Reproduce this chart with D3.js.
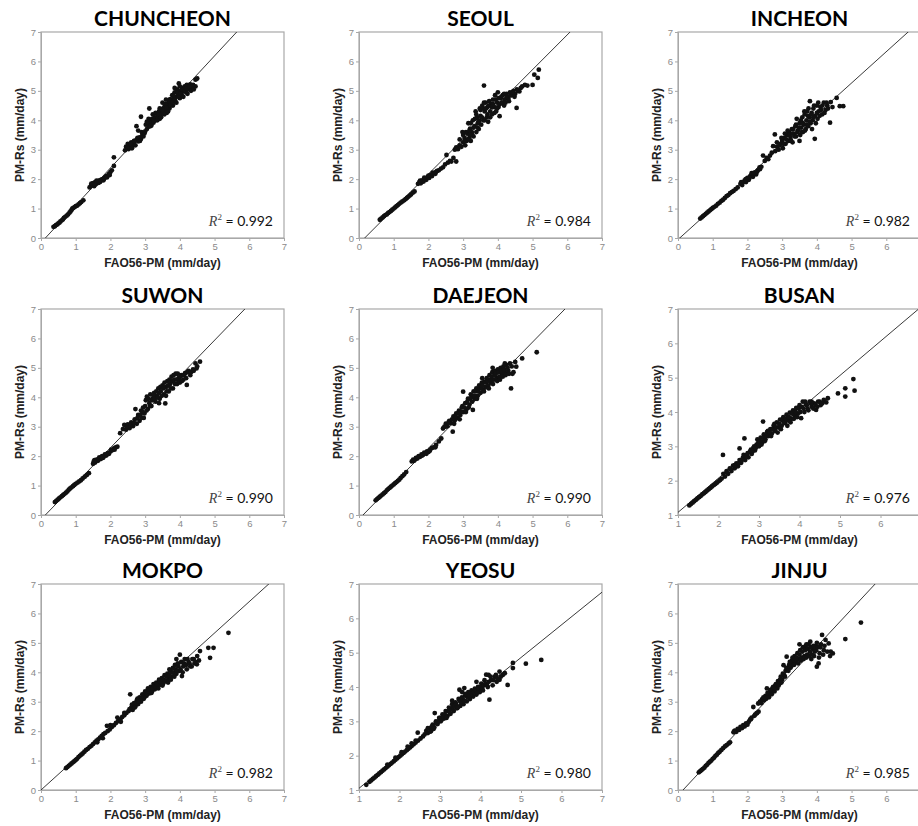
<!DOCTYPE html>
<html>
<head>
<meta charset="utf-8">
<script src="https://cdn.jsdelivr.net/npm/d3@7"></script>
<style>
  body { margin: 0; background: #fff; }
  svg { display: block; }
</style>
</head>
<body>
<div id="chart"></div>
<script>
// station panels, left-to-right, top-to-bottom
const stations = ["CHUNCHEON", "SEOUL", "INCHEON", "SUWON", "DAEJEON", "BUSAN", "MOKPO", "YEOSU", "JINJU"];
const r2Values = ["0.992", "0.984", "0.982", "0.990", "0.990", "0.976", "0.982", "0.980", "0.985"];
const axisMins = [0, 0, 0, 0, 0, 1, 0, 1, 0];
const axisMax = 7;
// fitted line: y = slope * x + intercept
const fitSlopes = [1.27, 1.183, 1.064, 1.218, 1.203, 0.997, 1.067, 0.952, 1.265];
const fitIntercepts = [-0.16, -0.193, -0.053, -0.152, -0.138, 0.08, 0.0, 0.098, -0.183];

// [FAO56-PM, PM-Rs] in mm/day
const chuncheon = [
  [0.36,0.38],[0.4,0.4],[0.43,0.44],[0.47,0.46],[0.5,0.5],[0.53,0.52],[0.56,0.56],[0.6,0.6],[0.63,0.63],[0.66,0.68],
  [0.7,0.72],[0.74,0.76],[0.78,0.8],[0.82,0.86],[0.85,0.9],[0.88,0.95],[0.9,1.0],[0.93,1.02],[0.97,1.05],[1.0,1.08],
  [1.04,1.1],[1.08,1.14],[1.12,1.18],[1.16,1.22],[1.22,1.28],
  [1.4,1.72],[1.44,1.78],[1.48,1.8],[1.5,1.86],[1.53,1.76],[1.56,1.9],[1.58,1.83],[1.62,1.92],[1.65,1.87],[1.68,1.96],
  [1.7,1.9],[1.74,1.98],[1.77,2.0],[1.8,1.96],[1.84,2.06],[1.88,2.1],[1.92,2.12],[1.96,2.18],[2.0,2.24],[2.04,2.3],
  [2.1,2.45],[2.1,2.74],[1.45,1.85],[1.55,1.82],[1.6,1.95],[1.72,1.94],[1.82,2.02],[1.9,2.06],[1.98,2.14],
  [2.42,2.98],[2.45,3.1],[2.5,3.2],[2.52,3.02],[2.56,3.15],[2.6,3.25],[2.63,3.1],[2.66,3.22],[2.7,3.3],[2.72,3.15],
  [2.76,3.35],[2.8,3.28],[2.84,3.42],[2.88,3.36],[2.92,3.5],[2.95,3.45],[2.88,4.12],[2.75,3.8],[2.8,3.65],
  [2.5,3.08],[2.58,3.2],[2.62,3.05],[2.68,3.3],[2.78,3.4],[2.85,3.3],[2.9,3.6],[2.98,3.55],
  [3.0,3.62],[3.02,3.85],[3.05,3.7],[3.08,3.9],[3.1,3.78],[3.12,4.4],[3.15,3.95],[3.18,3.82],[3.2,4.05],[3.24,3.92],
  [3.27,4.1],[3.3,4.0],[3.33,4.22],[3.36,4.12],[3.4,4.3],[3.42,4.05],[3.45,4.2],[3.48,4.38],[3.5,4.6],[3.52,4.28],
  [3.55,4.45],[3.58,4.35],[3.6,4.55],[3.62,4.25],[3.65,4.48],[3.68,4.62],[3.7,4.4],[3.72,4.72],[3.75,4.55],[3.78,4.85],
  [3.8,4.5],[3.82,4.7],[3.85,4.95],[3.88,4.62],[3.9,4.8],[3.92,5.05],[3.95,4.9],[3.97,5.25],[4.0,4.75],[4.02,5.0],
  [4.05,4.88],[4.08,5.1],[4.1,4.98],[4.14,5.15],[4.18,4.95],[4.2,5.2],[4.25,5.05],[4.3,5.22],[4.35,5.1],[4.45,5.38],
  [4.5,5.42],[4.45,5.15],
  [3.05,3.95],[3.1,4.05],[3.15,3.8],[3.22,4.2],[3.25,3.98],[3.3,4.25],[3.35,4.0],[3.38,4.2],[3.42,4.4],[3.46,4.1],
  [3.5,4.35],[3.55,4.2],[3.58,4.55],[3.62,4.42],[3.66,4.3],[3.7,4.65],[3.74,4.5],[3.78,4.62],[3.82,4.82],[3.86,4.72],
  [3.9,4.6],[3.94,4.95],[3.98,4.82],[4.02,4.9],[4.06,5.05],[4.1,4.8],[4.15,5.0],[4.2,5.08],[4.22,4.9],[4.28,5.15],
  [4.32,5.0],[4.38,5.2],[4.4,5.05],[3.85,5.1],[3.6,4.7],[4.0,5.15]
];
const seoul = [
  [0.6,0.62],[0.64,0.66],[0.68,0.7],[0.72,0.74],[0.76,0.78],[0.8,0.8],[0.84,0.85],[0.88,0.88],[0.92,0.92],[0.96,0.96],
  [1.0,1.0],[1.04,1.04],[1.08,1.08],[1.12,1.12],[1.16,1.16],[1.2,1.2],[1.25,1.24],[1.3,1.28],[1.34,1.32],[1.38,1.36],
  [1.42,1.4],[1.46,1.44],[1.5,1.48],[1.55,1.54],[1.6,1.58],
  [1.7,1.84],[1.74,1.9],[1.78,1.86],[1.82,1.96],[1.86,1.92],[1.9,2.02],[1.94,1.98],[1.98,2.08],[2.02,2.04],[2.06,2.14],
  [2.1,2.1],[2.15,2.2],[2.2,2.18],[2.25,2.28],[2.3,2.3],[1.76,1.95],[1.88,2.05],[2.0,2.12],[2.12,2.22],[2.22,2.25],
  [2.36,2.36],[2.42,2.4],[2.48,2.5],[2.52,2.82],[2.56,2.56],[2.62,2.62],[2.66,2.6],[2.72,2.72],[2.8,2.6],
  [2.76,3.0],[2.8,3.08],[2.85,3.02],[2.9,3.15],[2.95,3.1],[2.98,3.6],[3.0,3.25],[3.04,3.4],[3.06,3.15],[3.1,3.3],
  [3.12,3.55],[3.15,3.9],[3.18,3.4],[3.2,3.72],[3.22,3.3],[3.25,3.6],[3.28,4.0],[3.3,3.45],[3.33,3.8],[3.36,4.3],
  [3.38,3.6],[3.4,4.1],[3.42,3.9],[3.45,3.7],[3.48,4.4],[3.5,4.15],[3.52,3.85],[3.55,4.5],[3.58,4.0],[3.6,5.18],
  [3.62,4.3],[3.65,4.6],[3.68,4.1],[3.7,4.45],[3.72,3.95],[3.75,4.65],[3.78,4.3],[3.8,4.55],[3.83,4.2],[3.86,4.7],
  [3.9,4.45],[3.92,4.85],[3.95,4.3],[3.98,4.6],[4.0,4.95],[4.02,4.45],[4.05,4.14],[4.08,4.75],[4.1,4.6],[4.14,4.85],
  [4.18,4.5],[4.2,4.7],[4.25,4.9],[4.3,4.75],[4.35,4.95],[4.4,4.85],[4.45,5.0],[4.5,4.9],[4.54,4.42],[4.55,5.05],
  [4.62,4.98],[4.7,5.15],[4.78,5.2],[4.85,5.18],[5.0,5.2],[5.05,5.55],[5.18,5.72],[5.15,5.44],
  [2.9,3.35],[3.0,3.5],[3.08,3.6],[3.14,3.35],[3.18,3.65],[3.22,3.9],[3.26,3.5],[3.3,3.75],[3.34,4.05],[3.38,4.2],
  [3.42,3.75],[3.46,4.0],[3.5,4.35],[3.54,4.1],[3.58,4.4],[3.62,4.0],[3.66,4.4],[3.7,4.2],[3.74,4.5],[3.78,4.1],
  [3.82,4.45],[3.86,4.55],[3.9,4.25],[3.94,4.7],[3.98,4.4],[4.02,4.75],[4.06,4.55],[4.1,4.8],[4.14,4.6],[4.18,4.9],
  [4.22,4.6],[4.26,4.8],[4.32,4.65],[4.36,4.85],[4.42,4.95],[4.48,4.8],[4.58,5.0],[4.66,5.1],[3.05,3.3],[3.2,3.5],
  [3.45,3.95],[3.6,4.6]
];
const incheon = [
  [0.64,0.66],[0.68,0.7],[0.72,0.74],[0.76,0.78],[0.8,0.82],[0.84,0.86],[0.88,0.9],[0.92,0.94],[0.96,0.98],[1.0,1.02],
  [1.05,1.06],[1.1,1.1],[1.15,1.16],[1.2,1.2],[1.25,1.26],[1.3,1.3],[1.35,1.36],[1.4,1.42],[1.45,1.46],[1.5,1.52],
  [1.55,1.56],[1.6,1.6],[1.66,1.66],[1.72,1.72],
  [1.8,1.84],[1.85,1.8],[1.88,1.9],[1.92,1.96],[1.96,1.9],[2.0,2.04],[2.04,1.98],[2.08,2.1],[2.12,2.2],[2.16,2.08],
  [2.2,2.22],[2.25,2.16],[2.3,2.3],[2.36,2.34],[2.4,2.42],[1.82,1.9],[1.95,2.0],[2.06,2.05],[2.18,2.2],[2.28,2.25],
  [2.35,2.4],
  [2.45,2.8],[2.5,2.62],[2.55,2.72],[2.6,2.68],[2.65,2.8],[2.7,2.9],[2.74,3.12],[2.79,3.52],
  [2.8,2.95],[2.85,3.1],[2.9,3.0],[2.95,3.2],[3.0,3.3],[3.02,3.05],[3.06,3.4],[3.1,3.2],[3.14,3.5],[3.18,3.3],
  [3.2,3.6],[3.24,3.4],[3.28,3.7],[3.3,3.25],[3.34,3.55],[3.38,3.8],[3.4,3.45],[3.42,4.05],[3.45,3.65],[3.5,3.9],
  [3.52,3.5],[3.55,3.75],[3.58,4.1],[3.6,3.6],[3.62,3.85],[3.65,4.2],[3.68,3.7],[3.7,4.0],[3.72,4.3],[3.75,3.8],
  [3.78,4.1],[3.8,4.65],[3.82,3.9],[3.85,4.25],[3.88,4.0],[3.9,4.4],[3.94,3.37],[3.95,4.15],[4.0,4.5],[4.02,4.05],
  [4.05,4.3],[4.1,4.45],[4.15,4.2],[4.2,4.6],[4.25,4.35],[4.3,4.5],[4.38,3.92],[4.4,4.62],[4.45,4.45],[4.57,4.76],
  [4.66,4.48],[4.76,4.48],
  [2.85,3.25],[2.92,3.15],[2.98,3.4],[3.04,3.2],[3.08,3.55],[3.12,3.35],[3.16,3.65],[3.22,3.5],[3.26,3.3],[3.32,3.7],
  [3.36,3.45],[3.4,3.85],[3.44,3.6],[3.48,3.75],[3.54,4.0],[3.56,3.6],[3.6,3.9],[3.64,4.3],[3.66,3.65],[3.7,3.85],
  [3.74,4.15],[3.76,4.4],[3.8,3.95],[3.84,4.2],[3.86,3.7],[3.9,4.1],[3.92,4.5],[3.97,3.9],[4.0,4.25],[4.04,4.6],
  [4.08,4.15],[4.12,4.35],[4.16,4.5],[4.22,4.25],[4.28,4.6],[4.32,4.4],[3.5,3.3],[3.3,3.55]
];
const suwon = [
  [0.4,0.44],[0.44,0.48],[0.48,0.52],[0.52,0.56],[0.56,0.6],[0.6,0.64],[0.64,0.68],[0.68,0.72],[0.72,0.76],[0.76,0.8],
  [0.8,0.86],[0.84,0.9],[0.88,0.94],[0.92,0.98],[0.96,1.02],[1.0,1.06],[1.05,1.1],[1.1,1.14],[1.15,1.18],[1.2,1.24],
  [1.26,1.3],[1.32,1.36],[1.38,1.42],
  [1.5,1.74],[1.52,1.82],[1.56,1.78],[1.6,1.88],[1.64,1.84],[1.68,1.96],[1.72,1.9],[1.76,2.0],[1.8,1.96],[1.84,2.06],
  [1.88,2.02],[1.92,2.1],[1.96,2.08],[2.0,2.16],[2.05,2.2],[2.1,2.26],[2.15,2.3],[2.2,2.32],
  [1.54,1.86],[1.66,1.9],[1.78,1.94],[1.9,2.06],[2.02,2.22],[2.12,2.22],
  [2.28,2.78],[2.36,2.92],[2.4,3.06],[2.45,2.9],[2.5,3.08],[2.55,2.95],[2.6,3.15],[2.65,3.02],[2.7,3.25],[2.72,3.6],
  [2.76,3.1],[2.8,3.4],[2.84,3.2],[2.88,3.55],[2.9,3.3],[2.94,3.65],[2.98,3.45],[3.02,3.9],[3.05,4.02],[3.08,3.6],
  [3.12,3.8],[3.15,4.1],[3.18,3.7],[3.22,3.95],[3.26,4.15],[3.3,3.85],[3.34,4.05],[3.38,4.3],[3.42,3.95],[3.45,4.2],
  [3.5,4.4],[3.54,4.1],[3.58,3.79],[3.6,4.35],[3.64,4.55],[3.68,4.2],[3.72,4.45],[3.76,4.7],[3.8,4.3],[3.84,4.6],
  [3.88,4.8],[3.92,4.45],[3.96,4.65],[4.0,4.5],[4.04,4.75],[4.1,4.6],[4.15,4.82],[4.2,4.42],[4.25,4.9],[4.3,4.75],
  [4.38,4.95],[4.45,5.15],[4.5,5.05],[4.58,5.21],[4.48,4.98],
  [2.48,2.98],[2.58,3.05],[2.68,3.12],[2.78,3.3],[2.86,3.4],[2.92,3.5],[2.96,3.3],[3.0,3.7],[3.04,3.55],[3.1,3.95],
  [3.14,3.7],[3.2,3.9],[3.24,4.05],[3.28,3.95],[3.32,4.2],[3.36,4.0],[3.4,4.15],[3.44,4.35],[3.48,4.05],[3.52,4.3],
  [3.56,4.5],[3.62,4.2],[3.66,4.4],[3.7,4.6],[3.74,4.3],[3.78,4.55],[3.82,4.75],[3.86,4.45],[3.9,4.6],[3.94,4.8],
  [3.98,4.55],[4.02,4.7],[4.06,4.55],[4.12,4.75],[4.18,4.65],[4.22,4.85],[4.32,4.85],[4.4,4.9],[3.6,4.05],[3.4,3.8]
];
const daejeon = [
  [0.48,0.5],[0.52,0.54],[0.56,0.58],[0.6,0.62],[0.64,0.66],[0.68,0.7],[0.72,0.74],[0.76,0.78],[0.8,0.84],[0.84,0.88],
  [0.88,0.92],[0.92,0.96],[0.96,1.0],[1.0,1.04],[1.04,1.08],[1.08,1.12],[1.12,1.16],[1.16,1.2],[1.2,1.26],[1.25,1.32],
  [1.3,1.38],[1.36,1.46],
  [1.52,1.82],[1.56,1.88],[1.6,1.86],[1.64,1.94],[1.68,1.92],[1.72,2.0],[1.76,1.98],[1.8,2.06],[1.84,2.04],[1.88,2.12],
  [1.92,2.1],[1.96,2.16],[2.0,2.14],[2.05,2.22],[2.1,2.28],[2.15,2.3],[2.22,2.38],[2.3,2.5],[2.37,2.6],
  [1.58,1.84],[1.7,1.96],[1.82,2.02],[1.94,2.08],[2.04,2.18],[2.2,2.3],
  [2.42,2.94],[2.46,3.0],[2.5,3.1],[2.55,3.02],[2.6,3.2],[2.65,3.12],[2.7,2.83],[2.72,3.35],[2.76,3.22],[2.8,3.45],
  [2.84,3.3],[2.88,3.55],[2.92,3.4],[2.96,3.65],[3.0,4.19],[3.02,3.5],[3.06,3.8],[3.1,3.6],[3.14,3.95],[3.18,3.75],
  [3.22,4.1],[3.26,3.85],[3.28,3.57],[3.3,4.2],[3.34,3.95],[3.38,4.3],[3.42,4.05],[3.46,4.4],[3.5,4.15],[3.54,4.5],
  [3.58,4.25],[3.61,4.53],[3.64,4.35],[3.68,4.65],[3.72,4.4],[3.76,4.75],[3.8,4.5],[3.84,4.85],[3.88,4.6],[3.92,4.9],
  [3.96,4.65],[4.0,4.95],[4.04,4.7],[4.08,5.0],[4.12,4.8],[4.16,5.05],[4.2,4.85],[4.25,5.1],[4.3,4.9],[4.38,4.3],
  [4.35,5.15],[4.42,4.8],[4.53,5.04],[4.5,5.2],[4.7,5.32],[5.12,5.53],
  [2.5,3.0],[2.58,3.15],[2.68,3.25],[2.74,3.1],[2.78,3.35],[2.86,3.45],[2.9,3.25],[2.94,3.5],[2.98,3.7],[3.04,3.65],
  [3.08,3.5],[3.12,3.85],[3.16,3.65],[3.2,3.95],[3.24,4.0],[3.32,4.05],[3.36,4.2],[3.4,3.95],[3.44,4.2],[3.48,4.3],
  [3.52,4.35],[3.56,4.4],[3.6,4.2],[3.66,4.5],[3.7,4.55],[3.74,4.3],[3.78,4.6],[3.82,4.7],[3.86,4.45],[3.9,4.75],
  [3.94,4.8],[3.98,4.55],[4.02,4.85],[4.06,4.6],[4.1,4.9],[4.14,4.7],[4.18,4.95],[4.22,4.75],[4.28,5.0],[4.32,4.8],
  [4.4,5.05],[4.45,4.85],[3.55,4.65],[3.85,5.0],[4.2,5.15]
];
const busan = [
  [1.28,1.28],[1.32,1.32],[1.36,1.36],[1.4,1.4],[1.44,1.44],[1.48,1.48],[1.52,1.52],[1.56,1.55],[1.6,1.6],[1.64,1.63],
  [1.68,1.67],[1.72,1.71],[1.76,1.75],[1.8,1.79],[1.84,1.83],[1.88,1.87],[1.92,1.9],[1.96,1.94],[2.0,1.98],[2.04,2.02],
  [2.08,2.06],
  [2.11,2.75],[2.12,2.2],[2.16,2.12],[2.2,2.28],[2.24,2.2],[2.28,2.36],[2.32,2.28],[2.36,2.44],[2.4,2.36],[2.44,2.5],
  [2.48,2.42],[2.52,2.6],[2.52,2.94],[2.56,2.52],[2.6,2.66],[2.64,3.23],[2.66,2.6],[2.7,2.75],[2.74,2.68],[2.78,2.85],
  [2.82,2.78],[2.86,2.95],[2.9,2.88],[2.94,3.05],
  [2.96,3.2],[3.0,3.0],[3.04,3.25],[3.08,3.12],[3.1,3.72],[3.12,3.35],[3.16,3.2],[3.2,3.42],[3.24,3.3],[3.28,3.5],
  [3.32,3.38],[3.36,3.6],[3.4,3.45],[3.44,3.7],[3.48,3.55],[3.52,3.78],[3.56,3.6],[3.6,3.85],[3.64,3.68],[3.68,3.92],
  [3.72,3.75],[3.76,3.98],[3.8,3.8],[3.84,4.05],[3.88,3.88],[3.92,4.12],[3.96,3.95],[4.0,4.2],[4.04,3.82],[4.08,4.3],
  [4.12,4.0],[4.16,4.22],[4.2,4.1],[4.25,4.3],[4.3,4.15],[4.36,4.25],[4.41,4.06],[4.46,4.3],[4.52,4.2],[4.6,4.35],
  [4.7,4.4],[4.66,4.28],[4.95,4.54],[5.13,4.69],[5.13,4.45],[5.33,4.96],[5.36,4.62],
  [2.2,2.24],[2.3,2.34],[2.4,2.45],[2.5,2.5],[2.58,2.6],[2.62,2.75],[2.68,2.7],[2.72,2.8],[2.8,2.9],[2.84,2.85],
  [2.88,3.0],[2.92,2.95],[2.98,3.1],[3.02,3.15],[3.06,3.05],[3.1,3.25],[3.14,3.15],[3.18,3.3],[3.22,3.45],[3.26,3.4],
  [3.3,3.3],[3.34,3.5],[3.38,3.65],[3.42,3.55],[3.46,3.4],[3.5,3.65],[3.54,3.5],[3.58,3.75],[3.62,3.7],[3.66,3.8],
  [3.7,3.6],[3.74,3.85],[3.78,3.7],[3.82,3.95],[3.86,3.8],[3.9,4.0],[3.94,3.85],[3.98,4.1],[4.02,4.0],[4.06,4.15],
  [4.1,4.1],[4.14,4.3],[4.18,4.2],[4.22,4.05],[4.28,4.25],[4.34,4.1],[4.4,4.2],[4.44,4.15],[4.5,4.3],[4.56,4.25],
  [4.3,4.3]
];
const mokpo = [
  [0.72,0.74],[0.76,0.78],[0.8,0.82],[0.84,0.86],[0.88,0.9],[0.92,0.94],[0.96,0.98],[1.0,1.02],[1.04,1.06],[1.08,1.12],
  [1.12,1.16],[1.16,1.2],[1.2,1.24],[1.25,1.3],[1.3,1.36],[1.35,1.4],[1.4,1.46],[1.45,1.5],[1.5,1.56],[1.55,1.62],
  [1.6,1.68],[1.65,1.72],[1.7,1.78],[1.75,1.84],[1.8,1.9],[1.85,1.94],[1.9,2.18],[1.92,2.0],[1.98,2.06],[2.04,2.14],
  [2.1,2.2],[2.16,2.28],[2.22,2.34],[2.28,2.4],[2.34,2.48],[2.4,2.54],[2.46,2.62],
  [1.62,1.62],[1.78,1.76],[2.0,2.2],[2.2,2.46],[2.3,2.32],[2.4,2.62],
  [2.52,2.68],[2.57,3.25],[2.6,2.8],[2.64,2.72],[2.68,2.95],[2.72,2.84],[2.76,3.05],[2.8,2.92],[2.84,3.15],[2.88,3.0],
  [2.92,3.25],[2.96,3.1],[3.0,3.35],[3.04,3.2],[3.08,3.45],[3.12,3.28],[3.16,3.5],[3.2,3.35],[3.24,3.6],[3.28,3.42],
  [3.32,3.65],[3.36,3.5],[3.4,3.75],[3.44,3.58],[3.48,3.8],[3.52,3.62],[3.56,3.9],[3.6,3.7],[3.64,3.95],[3.68,3.78],
  [3.72,4.05],[3.76,3.85],[3.8,4.15],[3.82,3.98],[3.86,4.25],[3.9,3.95],[3.94,4.3],[3.98,4.05],[4.0,4.6],[4.06,3.87],
  [4.1,4.2],[4.14,4.45],[4.2,4.1],[4.25,4.35],[4.3,4.2],[4.36,4.45],[4.42,4.3],[4.49,4.27],[4.5,4.55],[4.58,4.72],
  [4.82,4.83],[4.97,4.83],[4.87,4.49],[5.4,5.34],
  [2.55,2.75],[2.62,2.9],[2.7,2.8],[2.74,2.95],[2.78,3.1],[2.82,3.0],[2.9,3.1],[2.94,3.2],[2.98,3.15],[3.02,3.3],
  [3.06,3.25],[3.1,3.35],[3.14,3.4],[3.18,3.3],[3.22,3.45],[3.26,3.55],[3.3,3.5],[3.34,3.6],[3.38,3.45],[3.42,3.7],
  [3.46,3.65],[3.5,3.55],[3.54,3.75],[3.58,3.7],[3.62,3.85],[3.66,3.65],[3.7,3.9],[3.74,3.75],[3.78,4.0],[3.84,3.85],
  [3.88,4.1],[3.92,4.05],[3.96,4.2],[4.02,4.1],[4.04,4.35],[4.08,4.0],[4.12,4.3],[4.18,4.25],[4.22,4.45],[4.28,4.3],
  [4.34,4.2],[4.4,4.45],[4.45,4.35],[4.55,4.4],[3.9,4.45],[3.7,4.1]
];
const yeosu = [
  [1.18,1.15],[1.26,1.24],[1.3,1.28],[1.34,1.32],[1.38,1.36],[1.42,1.4],[1.46,1.44],[1.5,1.48],[1.54,1.52],[1.58,1.56],
  [1.62,1.6],[1.66,1.64],[1.7,1.68],[1.74,1.72],[1.78,1.76],[1.82,1.8],[1.86,1.84],[1.9,1.88],[1.94,1.92],[1.98,1.96],
  [2.02,2.0],[2.06,2.04],[2.1,2.08],[2.14,2.12],[2.18,2.16],[2.22,2.2],[2.26,2.24],[2.3,2.28],[2.35,2.33],[2.4,2.38],
  [2.45,2.67],[2.46,2.44],[2.52,2.5],[2.58,2.56],
  [1.7,1.74],[1.9,1.94],[2.05,2.1],[2.2,2.26],[2.3,2.36],[2.4,2.44],
  [2.62,2.62],[2.66,2.72],[2.7,2.66],[2.74,2.8],[2.78,2.72],[2.82,2.9],[2.86,2.82],[2.87,3.24],[2.9,3.0],[2.94,2.92],
  [2.98,3.1],[3.02,3.0],[3.06,3.2],[3.1,3.08],[3.14,3.3],[3.18,3.15],[3.22,3.4],[3.26,3.22],[3.3,3.5],[3.34,3.3],
  [3.38,3.55],[3.42,3.38],[3.46,3.65],[3.48,3.92],[3.5,3.45],[3.54,3.7],[3.58,3.5],[3.6,3.97],[3.62,3.75],[3.66,3.58],
  [3.7,3.85],[3.74,3.65],[3.78,3.9],[3.82,3.72],[3.86,3.95],[3.9,3.78],[3.94,4.0],[3.98,3.85],[4.02,4.1],[4.06,3.9],
  [4.1,4.2],[4.14,4.36],[4.18,4.0],[4.22,3.63],[4.26,4.2],[4.3,4.05],[4.35,4.3],[4.4,4.15],[4.47,4.45],[4.47,4.21],
  [4.55,4.35],[4.67,4.06],[4.8,4.55],[4.8,4.7],[5.12,4.68],[5.5,4.79],
  [2.7,2.8],[2.76,2.7],[2.8,2.85],[2.84,2.78],[2.9,2.95],[2.96,3.0],[3.0,3.1],[3.04,3.05],[3.08,3.15],[3.12,3.2],
  [3.16,3.1],[3.2,3.3],[3.24,3.25],[3.28,3.35],[3.32,3.4],[3.36,3.45],[3.4,3.5],[3.44,3.4],[3.48,3.6],[3.52,3.55],
  [3.56,3.65],[3.6,3.6],[3.64,3.8],[3.68,3.7],[3.72,3.75],[3.76,3.85],[3.8,3.8],[3.84,3.85],[3.88,3.9],[3.92,3.85],
  [3.96,3.95],[4.0,4.0],[4.04,3.95],[4.08,4.05],[4.12,4.1],[4.16,4.05],[4.2,4.15],[4.25,4.3],[4.32,4.2],[4.38,4.35],
  [4.42,4.25],[4.5,4.3],[4.6,4.4],[3.3,3.6],[3.55,3.85],[3.9,4.15],[4.2,4.35]
];
const jinju = [
  [0.6,0.6],[0.64,0.64],[0.68,0.68],[0.72,0.72],[0.76,0.76],[0.8,0.82],[0.84,0.86],[0.88,0.92],[0.92,0.96],[0.96,1.0],
  [1.0,1.06],[1.04,1.1],[1.08,1.16],[1.12,1.2],[1.16,1.26],[1.2,1.3],[1.25,1.36],[1.3,1.42],[1.35,1.48],[1.4,1.52],
  [1.46,1.58],[1.5,1.62],
  [1.6,1.96],[1.64,2.02],[1.68,1.98],[1.72,2.08],[1.76,2.04],[1.8,2.14],[1.84,2.1],[1.88,2.2],[1.92,2.16],[1.96,2.26],
  [2.0,2.22],[2.04,2.32],[2.08,2.4],[2.12,2.46],[2.17,2.82],[2.2,2.52],[2.26,2.6],[2.32,2.66],
  [1.62,2.0],[1.74,2.06],[1.86,2.15],[1.98,2.24],[2.1,2.4],[2.22,2.56],[2.28,2.62],
  [2.31,2.94],[2.36,3.0],[2.42,3.08],[2.48,3.05],[2.52,3.2],[2.56,3.45],[2.6,3.2],[2.64,3.32],[2.68,3.28],[2.72,3.45],
  [2.76,3.38],[2.8,3.55],[2.84,3.5],[2.88,3.7],[2.92,3.62],[2.96,3.85],[3.0,3.75],[3.04,4.24],[3.06,3.9],[3.1,4.05],
  [3.13,4.53],[3.16,4.1],[3.2,4.25],[3.24,4.15],[3.28,4.4],[3.32,4.3],[3.36,4.55],[3.4,4.35],[3.44,4.65],[3.48,4.45],
  [3.52,4.75],[3.56,4.5],[3.6,4.85],[3.64,4.55],[3.68,4.9],[3.72,4.6],[3.76,4.95],[3.8,4.7],[3.81,5.04],[3.84,4.45],
  [3.88,4.8],[3.92,4.55],[3.96,4.9],[4.0,4.19],[4.05,4.3],[4.08,4.65],[4.12,4.95],[4.15,5.27],[4.2,4.75],[4.25,5.1],
  [4.34,4.98],[4.38,4.55],[4.46,4.64],[4.4,4.7],[4.82,5.13],[5.27,5.69],
  [2.4,2.95],[2.46,3.15],[2.54,3.1],[2.58,3.3],[2.62,3.15],[2.66,3.4],[2.7,3.25],[2.74,3.5],[2.78,3.35],[2.82,3.6],
  [2.86,3.45],[2.9,3.55],[2.94,3.75],[2.98,3.65],[3.02,3.95],[3.08,3.85],[3.12,4.15],[3.18,4.05],[3.22,4.35],[3.26,4.2],
  [3.3,4.5],[3.34,4.25],[3.38,4.45],[3.42,4.5],[3.46,4.3],[3.5,4.6],[3.54,4.4],[3.58,4.7],[3.62,4.45],[3.66,4.75],
  [3.7,4.5],[3.74,4.8],[3.78,4.55],[3.82,4.85],[3.86,4.6],[3.9,4.9],[3.94,4.7],[3.98,4.75],[4.02,4.85],[4.06,4.5],
  [4.1,4.85],[4.18,4.6],[4.22,4.9],[4.3,4.7],[3.5,4.95],[3.7,4.95],[4.0,5.0]
];
const pointSets = [chuncheon, seoul, incheon, suwon, daejeon, busan, mokpo, yeosu, jinju];

const W = 918, H = 826;
const colLeft = [41, 359, 678];
const rowTop = [32, 309, 584];
const plotW = 243, plotH = 206;

const svg = d3.select("#chart").append("svg")
  .attr("width", W)
  .attr("height", H);

const tickColor = "#8a8a8a";
const frameColor = "#a8a8a8";

stations.forEach((name, i) => {
  const left = colLeft[i % 3];
  const top = rowTop[Math.floor(i / 3)];
  const lo = axisMins[i];

  const x = d3.scaleLinear().domain([lo, axisMax]).range([0, plotW]);
  const y = d3.scaleLinear().domain([lo, axisMax]).range([plotH, 0]);
  const ticks = d3.range(lo, axisMax + 1);
  // the right column runs past the page edge, so its last x label is not shown
  const xTicks = ticks.filter((t) => left + x(t) < W - 4);

  const g = svg.append("g").attr("transform", `translate(${left},${top})`);

  g.append("clipPath")
    .attr("id", `clip${i}`)
    .append("rect")
    .attr("width", plotW)
    .attr("height", plotH);

  // plot frame
  g.append("rect")
    .attr("width", plotW)
    .attr("height", plotH)
    .attr("fill", "none")
    .attr("stroke", frameColor)
    .attr("stroke-width", 1.2);

  g.append("g")
    .attr("transform", `translate(0,${plotH})`)
    .call(d3.axisBottom(x).tickValues(xTicks).tickSize(3).tickPadding(2).tickFormat(d3.format("d")))
    .call((a) => a.select(".domain").attr("stroke", frameColor))
    .call((a) => a.selectAll("line").attr("stroke", frameColor))
    .call((a) =>
      a.selectAll("text")
        .attr("fill", tickColor)
        .attr("font-size", 9.5)
        .attr("font-family", "'Liberation Sans', Arial, sans-serif"),
    );

  g.append("g")
    .call(d3.axisLeft(y).tickValues(ticks).tickSize(3).tickPadding(2).tickFormat(d3.format("d")))
    .call((a) => a.select(".domain").attr("stroke", frameColor))
    .call((a) => a.selectAll("line").attr("stroke", frameColor))
    .call((a) =>
      a.selectAll("text")
        .attr("fill", tickColor)
        .attr("font-size", 9.5)
        .attr("font-family", "'Liberation Sans', Arial, sans-serif"),
    );

  // fitted line
  const fit = (v) => fitSlopes[i] * v + fitIntercepts[i];
  g.append("line")
    .attr("clip-path", `url(#clip${i})`)
    .attr("x1", x(lo - 1))
    .attr("y1", y(fit(lo - 1)))
    .attr("x2", x(axisMax + 1))
    .attr("y2", y(fit(axisMax + 1)))
    .attr("stroke", "#222")
    .attr("stroke-width", 0.9);

  g.append("g")
    .attr("clip-path", `url(#clip${i})`)
    .selectAll("circle")
    .data(pointSets[i])
    .join("circle")
    .attr("cx", (d) => x(d[0]))
    .attr("cy", (d) => y(d[1]))
    .attr("r", 2.4)
    .attr("fill", "#111");

  // title
  g.append("text")
    .attr("x", plotW / 2)
    .attr("y", -6)
    .attr("text-anchor", "middle")
    .attr("font-family", "Lato, 'Open Sans', sans-serif")
    .attr("font-weight", 700)
    .attr("font-size", 21)
    .attr("fill", "#000")
    .text(name);

  // axis labels
  g.append("text")
    .attr("x", plotW / 2)
    .attr("y", plotH + 29)
    .attr("text-anchor", "middle")
    .attr("font-family", "'Liberation Sans', Arial, sans-serif")
    .attr("font-weight", 700)
    .attr("font-size", 12)
    .attr("fill", "#222")
    .text("FAO56-PM (mm/day)");

  g.append("text")
    .attr("transform", `translate(-17,${plotH / 2}) rotate(-90)`)
    .attr("text-anchor", "middle")
    .attr("font-family", "'Liberation Sans', Arial, sans-serif")
    .attr("font-weight", 700)
    .attr("font-size", 12)
    .attr("fill", "#222")
    .text("PM-Rs (mm/day)");

  // R² note
  const note = g.append("text")
    .attr("x", plotW - 11)
    .attr("y", plotH - 12)
    .attr("text-anchor", "end")
    .attr("font-size", 14)
    .attr("fill", "#111");
  note.append("tspan")
    .attr("font-family", "'Liberation Serif', 'DejaVu Serif', serif")
    .attr("font-style", "italic")
    .attr("fill", "#444")
    .text("R");
  note.append("tspan")
    .attr("font-family", "'Liberation Serif', serif")
    .attr("font-size", 9)
    .attr("dy", -6)
    .attr("fill", "#444")
    .text("2");
  note.append("tspan")
    .attr("font-family", "Lato, 'Liberation Sans', sans-serif")
    .attr("dy", 6)
    .text(" = " + r2Values[i]);
});
</script>
</body>
</html>
